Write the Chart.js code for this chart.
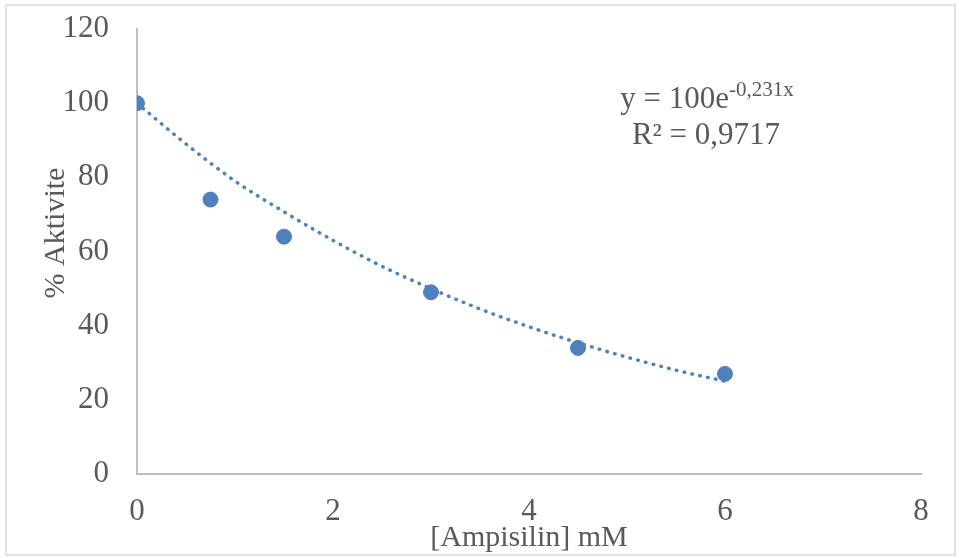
<!DOCTYPE html>
<html>
<head>
<meta charset="utf-8">
<script src="https://cdn.jsdelivr.net/npm/chart.js@4"></script>
<style>
  html, body { margin: 0; padding: 0; background: #fff; }
  #wrap { width: 959px; height: 558px; }
</style>
</head>
<body>
<div id="wrap"><canvas id="chart"></canvas></div>
<script>
// measured points
const concentrations = [0, 0.75, 1.5, 3, 4.5, 6];
const activity = [100, 74, 64, 49, 34, 27];

// exponential trendline
const trendX = [0, 0.5, 1, 1.5, 2, 2.5, 3, 3.5, 4, 4.5, 5, 5.5, 6];
const trendY = [100, 89, 79, 70.7, 63, 56, 50, 44.5, 39.7, 35.4, 31.5, 28, 25];

const xTicks = [0, 2, 4, 6, 8];
const yTicks = [0, 20, 40, 60, 80, 100, 120];

const serif = "'Liberation Serif', 'Times New Roman', serif";
const textColor = '#595959';
const blue = '#4f81bd';

// frame, y title and equation label
const extras = {
  id: 'extras',
  afterDraw(chart) {
    const c = chart.ctx;
    c.save();
    c.strokeStyle = '#d9d9d9';
    c.lineWidth = 1.5;
    c.strokeRect(6, 5, 949, 550);

    c.fillStyle = textColor;

    // y axis title, sits a little above the plot centre like in Excel
    c.save();
    c.translate(56, 233);
    c.rotate(-Math.PI / 2);
    c.font = '30px ' + serif;
    c.textAlign = 'center';
    c.textBaseline = 'middle';
    c.fillText('% Aktivite', 0, 0);
    c.restore();

    c.textBaseline = 'alphabetic';
    c.textAlign = 'left';
    const main = 'y = 100e';
    const sup = '-0,231x';
    c.font = '31px ' + serif;
    const w1 = c.measureText(main).width;
    c.font = '21px ' + serif;
    const w2 = c.measureText(sup).width;
    const start = 707 - (w1 + w2) / 2;
    c.font = '31px ' + serif;
    c.fillText(main, start, 108);
    c.font = '21px ' + serif;
    c.fillText(sup, start + w1, 96);

    c.font = '31px ' + serif;
    c.textAlign = 'center';
    c.fillText('R² = 0,9717', 706, 144);
    c.restore();
  }
};

new Chart(document.getElementById('chart'), {
  type: 'scatter',
  data: {
    datasets: [
      {
        label: 'Aktivite',
        data: concentrations.map((x, i) => ({ x: x, y: activity[i] })),
        backgroundColor: blue,
        borderColor: blue,
        pointRadius: 7.5,
        pointHoverRadius: 7.5,
        order: 1
      },
      {
        label: 'Trend',
        type: 'line',
        data: trendX.map((x, i) => ({ x: x, y: trendY[i] })),
        borderColor: blue,
        borderWidth: 3.5,
        borderDash: [0.5, 7.5],
        borderCapStyle: 'round',
        pointRadius: 0,
        fill: false,
        cubicInterpolationMode: 'monotone',
        order: 2
      }
    ]
  },
  options: {
    responsive: true,
    maintainAspectRatio: false,
    animation: false,
    layout: { autoPadding: false, padding: { left: 0, right: 38, top: 29, bottom: 0 } },
    plugins: {
      legend: { display: false },
      tooltip: { enabled: false }
    },
    scales: {
      x: {
        type: 'linear',
        min: 0,
        max: 8,
        afterBuildTicks: (s) => { s.ticks = xTicks.map(v => ({ value: v })); },
        afterFit: (s) => { s.height = 84; s.paddingLeft = 0; s.paddingRight = 0; },
        grid: { display: false, drawTicks: false },
        border: { display: true, color: '#bfbfbf', width: 2 },
        ticks: {
          padding: 19,
          color: textColor,
          font: { family: serif, size: 31 }
        },
        title: {
          display: true,
          text: '[Ampisilin] mM',
          color: textColor,
          font: { family: serif, size: 30 },
          padding: { top: 0, bottom: 2 }
        }
      },
      y: {
        min: 0,
        max: 120,
        afterBuildTicks: (s) => { s.ticks = yTicks.map(v => ({ value: v })); },
        afterFit: (s) => { s.width = 137; s.paddingTop = 0; s.paddingBottom = 0; },
        grid: { display: false, drawTicks: false },
        border: { display: true, color: '#bfbfbf', width: 2 },
        ticks: {
          padding: 28,
          color: textColor,
          font: { family: serif, size: 31 }
        },
        title: { display: false }
      }
    }
  },
  plugins: [extras]
});
</script>
</body>
</html>
